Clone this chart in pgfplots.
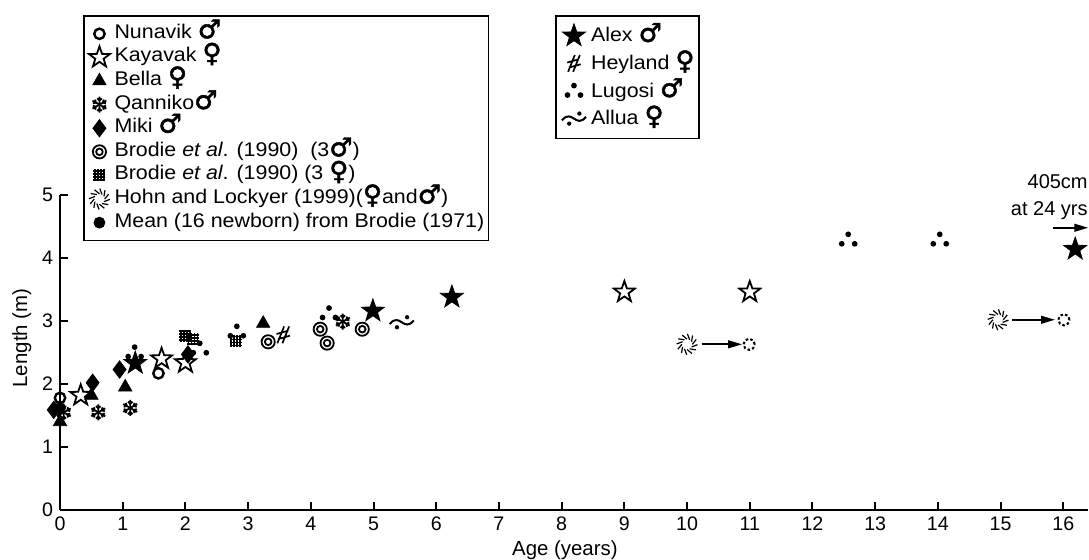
\documentclass[border=0pt]{standalone}
\usepackage{fontspec}
\setmainfont{Liberation Sans}
\newfontfamily\legfont{Liberation Sans}[FakeStretch=1.08]
\newfontfamily\symfont{DejaVu Sans}[FakeBold=1.8]
\usepackage{pgfplots}
\pgfplotsset{compat=1.18}
\usetikzlibrary{arrows.meta}

\newcommand\male{{\symfont\fontsize{13}{11}\selectfont ♂}}
\newcommand\female{{\symfont\fontsize{13}{11}\selectfont ♀}}

% --- home made marks ---
\pgfdeclareplotmark{pstar}{%
  \pgfpathmoveto{\pgfpoint{0pt}{\pgfplotmarksize}}%
  \pgfpathlineto{\pgfpoint{-0.235\pgfplotmarksize}{0.324\pgfplotmarksize}}%
  \pgfpathlineto{\pgfpoint{-0.951\pgfplotmarksize}{0.309\pgfplotmarksize}}%
  \pgfpathlineto{\pgfpoint{-0.380\pgfplotmarksize}{-0.124\pgfplotmarksize}}%
  \pgfpathlineto{\pgfpoint{-0.588\pgfplotmarksize}{-0.809\pgfplotmarksize}}%
  \pgfpathlineto{\pgfpoint{0pt}{-0.4\pgfplotmarksize}}%
  \pgfpathlineto{\pgfpoint{0.588\pgfplotmarksize}{-0.809\pgfplotmarksize}}%
  \pgfpathlineto{\pgfpoint{0.380\pgfplotmarksize}{-0.124\pgfplotmarksize}}%
  \pgfpathlineto{\pgfpoint{0.951\pgfplotmarksize}{0.309\pgfplotmarksize}}%
  \pgfpathlineto{\pgfpoint{0.235\pgfplotmarksize}{0.324\pgfplotmarksize}}%
  \pgfpathclose
  \pgfusepathqfillstroke
}
\pgfdeclareplotmark{snow}{%
  \pgfsetlinewidth{0.9pt}%
  \foreach \a in {30,90,...,330}{%
    \pgfmathsetmacro\anga{\a+45}\pgfmathsetmacro\angb{\a-45}%
    \pgfpathmoveto{\pgfpointorigin}%
    \pgfpathlineto{\pgfpointpolar{\a}{\pgfplotmarksize}}%
    \pgfpathmoveto{\pgfpointadd{\pgfpointpolar{\a}{0.5\pgfplotmarksize}}{\pgfpointpolar{\anga}{0.4\pgfplotmarksize}}}%
    \pgfpathlineto{\pgfpointpolar{\a}{0.5\pgfplotmarksize}}%
    \pgfpathlineto{\pgfpointadd{\pgfpointpolar{\a}{0.5\pgfplotmarksize}}{\pgfpointpolar{\angb}{0.4\pgfplotmarksize}}}%
    \pgfusepathqstroke
  }%
}
\pgfdeclareplotmark{dcirc}{%
  \pgfsetlinewidth{0.9pt}%
  \pgfpathcircle{\pgfpointorigin}{\pgfplotmarksize}%
  \pgfpathcircle{\pgfpointorigin}{0.5\pgfplotmarksize}%
  \pgfusepathqstroke
}
\pgfdeclareplotmark{hash}{%
  \pgfsetlinewidth{0.8pt}%
  \foreach \t in {-0.75,-0.25,0.25,0.75}{%
    \pgfpathmoveto{\pgfpoint{-\pgfplotmarksize}{\t\pgfplotmarksize}}%
    \pgfpathlineto{\pgfpoint{\pgfplotmarksize}{\t\pgfplotmarksize}}%
    \pgfpathmoveto{\pgfpoint{\t\pgfplotmarksize}{-\pgfplotmarksize}}%
    \pgfpathlineto{\pgfpoint{\t\pgfplotmarksize}{\pgfplotmarksize}}%
    \pgfusepathqstroke
  }%
}
\pgfdeclareplotmark{hohn}{%
  \pgfsetlinewidth{0.6pt}%
  \foreach \a in {0,30,...,330}{%
    \pgfmathsetmacro\anga{\a+28}%
    \pgfpathmoveto{\pgfpointpolar{\a}{0.5\pgfplotmarksize}}%
    \pgfpathlineto{\pgfpointpolar{\anga}{\pgfplotmarksize}}%
    \pgfusepathqstroke
  }%
}
\pgfdeclareplotmark{dotcirc}{%
  \pgfsetlinewidth{1pt}%
  \pgfsetdash{{1.3pt}{1.1pt}}{0pt}%
  \pgfpathcircle{\pgfpointorigin}{\pgfplotmarksize}%
  \pgfusepathqstroke
}
\pgfdeclareplotmark{heyland}{%
  \pgfsetlinewidth{0.85pt}%
  \pgfpathmoveto{\pgfpoint{-0.7\pgfplotmarksize}{-\pgfplotmarksize}}\pgfpathlineto{\pgfpoint{0.1\pgfplotmarksize}{\pgfplotmarksize}}%
  \pgfpathmoveto{\pgfpoint{-0.1\pgfplotmarksize}{-\pgfplotmarksize}}\pgfpathlineto{\pgfpoint{0.7\pgfplotmarksize}{\pgfplotmarksize}}%
  \pgfpathmoveto{\pgfpoint{-0.8\pgfplotmarksize}{0.1\pgfplotmarksize}}\pgfpathlineto{\pgfpoint{0.6\pgfplotmarksize}{0.5\pgfplotmarksize}}%
  \pgfpathmoveto{\pgfpoint{-0.6\pgfplotmarksize}{-0.5\pgfplotmarksize}}\pgfpathlineto{\pgfpoint{0.8\pgfplotmarksize}{-0.1\pgfplotmarksize}}%
  \pgfusepathqstroke
}
\pgfdeclareplotmark{lugosi}{%
  \pgfpathcircle{\pgfpoint{0pt}{0.6\pgfplotmarksize}}{0.32\pgfplotmarksize}%
  \pgfpathcircle{\pgfpoint{-0.72\pgfplotmarksize}{-0.45\pgfplotmarksize}}{0.32\pgfplotmarksize}%
  \pgfpathcircle{\pgfpoint{0.72\pgfplotmarksize}{-0.45\pgfplotmarksize}}{0.32\pgfplotmarksize}%
  \pgfusepathqfill
}
\pgfdeclareplotmark{allua}{%
  \pgfsetlinewidth{1pt}%
  \pgfpathmoveto{\pgfpoint{-\pgfplotmarksize}{-0.15\pgfplotmarksize}}%
  \pgfpathcurveto{\pgfpoint{-0.6\pgfplotmarksize}{0.35\pgfplotmarksize}}{\pgfpoint{-0.3\pgfplotmarksize}{0.2\pgfplotmarksize}}{\pgfpoint{0pt}{0pt}}%
  \pgfpathcurveto{\pgfpoint{0.3\pgfplotmarksize}{-0.2\pgfplotmarksize}}{\pgfpoint{0.6\pgfplotmarksize}{-0.35\pgfplotmarksize}}{\pgfpoint{\pgfplotmarksize}{0.15\pgfplotmarksize}}%
  \pgfusepathqstroke
  \pgfpathcircle{\pgfpoint{0.45\pgfplotmarksize}{0.42\pgfplotmarksize}}{0.18\pgfplotmarksize}%
  \pgfpathcircle{\pgfpoint{-0.4\pgfplotmarksize}{-0.42\pgfplotmarksize}}{0.18\pgfplotmarksize}%
  \pgfusepathqfill
}

\pgfplotsset{
  base/.style={
    scale only axis, width=514.1pt, height=157.5pt,
    xmin=0, xmax=16.4, ymin=0, ymax=5, clip=false,
    at={(0,0)}, anchor=south west,
    legend cell align=left,
  },
  leg/.style={
    anchor=north west, draw=black, line width=0.9pt,
    font=\legfont\fontsize{9.9}{11}\selectfont,
    inner xsep=2pt, inner ysep=3pt,
    nodes={text height=8pt, text depth=3.6pt, inner sep=0.1pt},
  },
}

\begin{document}
\begin{tikzpicture}
\begin{axis}[base,
  axis lines=left,
  axis line style={-, line width=1pt},
  tick style={line width=1pt, black},
  major tick length=4pt,
  tick align=inside,
  xtick={0,1,...,16}, ytick={0,1,...,5},
  ticklabel style={font=\fontsize{9.8}{10}\selectfont},
  /pgf/number format/assume math mode=true,
  xlabel={Age (years)}, ylabel={Length (m)},
  label style={font=\fontsize{10.2}{11}\selectfont},
  xlabel style={at={(axis description cs:0.491,-0.127)}, anchor=center},
  ylabel style={at={(axis description cs:-0.037,0.546)}, anchor=center},
  legend style={leg, at={(0.0224,1.571)}},
  legend image code/.code={\draw[mark repeat=2,mark phase=2,#1] plot coordinates {(0pt,0pt) (5.3pt,0pt) (10.6pt,0pt)}; \path (0pt,0pt) (12.3pt,0pt);},
]
% Nunavik
\addplot[only marks, mark=o, mark size=2.6pt, mark options={line width=1.2pt}] coordinates {(0,1.78) (1.57,2.17)};
\addlegendentry{Nunavik \male}
% Kayavak
\addplot[only marks, mark=pstar, mark size=5.5pt, mark options={fill=white, line width=0.9pt}] coordinates {(0.33,1.82) (1.62,2.40) (2.0,2.34) (9.0,3.46) (11.0,3.46)};
\addlegendentry{Kayavak \female}
% Bella
\addplot[only marks, mark=triangle*, mark size=3.9pt, mark options={line width=0.3pt}] coordinates {(0,1.40) (0.5,1.82) (1.04,1.95) (3.24,2.96)};
\addlegendentry{Bella \female}
% Qanniko
\addplot[only marks, mark=snow, mark size=4pt] coordinates {(0.06,1.55) (0.61,1.55) (1.12,1.62) (4.51,2.99)};
\addlegendentry{Qanniko\male}
% Miki
\addplot[only marks, mark=diamond*, mark size=4.4pt, mark options={line width=0.3pt}] coordinates {(-0.1,1.59) (0.52,2.02) (0.95,2.23) (2.04,2.47)};
\addlegendentry{Miki \male}
% Brodie et al. males
\addplot[only marks, mark=dcirc, mark size=3.3pt] coordinates {(3.32,2.67) (4.15,2.87) (4.26,2.65) (4.82,2.87)};
\addlegendentry{Brodie \textit{et al}. (1990)\ \ (3\male)}
% Brodie et al. females
\addplot[only marks, mark=hash, mark size=3pt] coordinates {(2.0,2.77) (2.12,2.71) (2.8,2.68)};
\addlegendentry{Brodie \textit{et al}. (1990) (3 \female)}
% Hohn and Lockyer
\addplot[only marks, mark=hohn, mark size=5.2pt] coordinates {(10.0,2.63) (14.96,3.02)};
\addlegendentry{Hohn and Lockyer (1999)(\female and\male)}
% Brodie 1971 newborn mean
\addplot[only marks, mark=*, mark size=2.8pt, mark options={line width=0.3pt}] coordinates {(0,1.62)};
\addlegendentry{Mean (16 newborn) from Brodie (1971)}
% projected sizes
\addplot[only marks, mark=dotcirc, mark size=2.8pt, forget plot] coordinates {(10.99,2.63) (16.01,3.02)};

\draw[line width=1pt, -{Triangle[length=7pt,width=3.8pt]}] (axis cs:10.24,2.63) -- (axis cs:10.88,2.63);
\draw[line width=1pt, -{Triangle[length=7pt,width=3.8pt]}] (axis cs:15.18,3.02) -- (axis cs:15.87,3.02);
\draw[line width=1pt, -{Triangle[length=7pt,width=3.8pt]}] (axis cs:15.84,4.48) -- (axis cs:16.40,4.48);
\node[anchor=base east, inner sep=0pt, font=\fontsize{10}{11}\selectfont] at (axis cs:16.395,5.10) {405cm};
\node[anchor=base east, inner sep=0pt, font=\fontsize{10}{11}\selectfont] at (axis cs:16.395,4.68) {at 24 yrs};

\coordinate (bbSW) at (axis cs:-0.957,-0.778);
\coordinate (bbNE) at (axis cs:16.41,8.095);
\end{axis}

\begin{axis}[base, hide axis,
  legend style={leg, at={(0.4815,1.571)}, inner ysep=3pt, nodes={text height=9.8pt, text depth=3.8pt}},
  legend image code/.code={\draw[mark repeat=2,mark phase=2,#1] plot coordinates {(0pt,0pt) (6.5pt,0pt) (13pt,0pt)}; \path (0pt,0pt) (14.5pt,0pt);},
]
% Alex
\addplot[only marks, mark=pstar, mark size=6pt, mark options={fill=black, line width=0.4pt}] coordinates {(1.2,2.33) (4.99,3.16) (6.25,3.38) (16.19,4.14)};
\addlegendentry{Alex \male}
% Heyland
\addplot[only marks, mark=heyland, mark size=4.2pt] coordinates {(3.56,2.78)};
\addlegendentry{Heyland \female}
% Lugosi
\addplot[only marks, mark=lugosi, mark size=4.5pt] coordinates {(1.19,2.50) (2.23,2.56) (2.82,2.83) (4.29,3.12) (12.57,4.29) (14.03,4.29)};
\addlegendentry{Lugosi \male}
% Allua
\addplot[only marks, mark=allua, mark size=6pt] coordinates {(5.45,2.98)};
\addlegendentry{Allua \female}
\end{axis}

\pgfresetboundingbox
\useasboundingbox (bbSW) rectangle (bbNE);
\end{tikzpicture}
\end{document}
